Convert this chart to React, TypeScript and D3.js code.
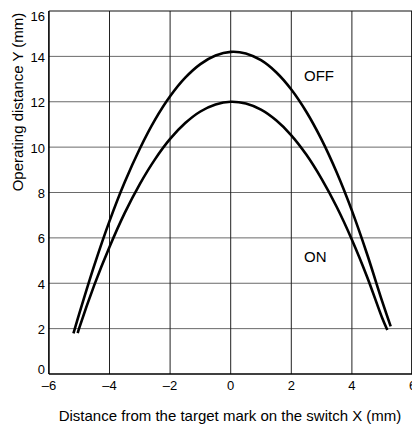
import React from "react";
import * as d3 from "d3";

const xTicks = [-6, -4, -2, 0, 2, 4, 6];
const yTicks = [0, 2, 4, 6, 8, 10, 12, 14, 16];

const offX = [-5.19, -5, -4.5, -4, -3.5, -3, -2.5, -2, -1.5, -1, -0.5, 0, 0.5, 1, 1.5, 2, 2.5, 3, 3.5, 4, 4.5, 5, 5.28];
const offY = [1.79, 2.65, 4.8, 6.74, 8.45, 9.93, 11.2, 12.24, 13.06, 13.66, 14.04, 14.2, 14.13, 13.83, 13.3, 12.54, 11.55, 10.33, 8.88, 7.2, 5.29, 3.2, 2.1];

const onX = [-5.05, -5, -4.5, -4, -3.5, -3, -2.5, -2, -1.5, -1, -0.5, 0, 0.5, 1, 1.5, 2, 2.5, 3, 3.5, 4, 4.5, 5, 5.17];
const onY = [1.8, 2.02, 3.93, 5.6, 7.09, 8.37, 9.46, 10.36, 11.06, 11.57, 11.88, 12.0, 11.92, 11.65, 11.18, 10.52, 9.66, 8.6, 7.36, 5.92, 4.29, 2.47, 1.94];

const seriesLabels = ["OFF", "ON"];
const labelX = [2.42, 2.42];
const labelY = [12.91, 4.94];

const W = 412;
const H = 424;
const left = 48.9;
const right = 412.5;
const top = 11;
const bottom = 374;
const font = "'Liberation Sans', Arial, Helvetica, sans-serif";

export default function App() {
  const x = d3.scaleLinear().domain([-6, 6]).range([left, right]);
  const y = d3.scaleLinear().domain([0, 16]).range([bottom, top]);
  const line = d3
    .line<[number, number]>()
    .x((d) => x(d[0]))
    .y((d) => y(d[1]))
    .curve(d3.curveCatmullRom.alpha(0.5));
  const offPts = offX.map((v, i) => [v, offY[i]] as [number, number]);
  const onPts = onX.map((v, i) => [v, onY[i]] as [number, number]);
  const fmt = (v: number) => (v < 0 ? "\u2013" + Math.abs(v) : String(v));
  const yLabelBase = (t: number) => {
    if (t === 16) return y(t) + 9.7;
    if (t === 0) return y(t);
    return y(t) + 5.5;
  };

  return (
    <svg
      width={W}
      height={H}
      style={{ position: "absolute", left: 0, top: 0, background: "#fff" }}
      fontFamily={font}
    >
      {yTicks.slice(1, -1).map((t) => (
        <line key={"h" + t} x1={left} x2={right} y1={y(t)} y2={y(t)} stroke="#6a6a6a" strokeWidth={1} />
      ))}
      {xTicks.slice(1, -1).map((t) => (
        <line key={"v" + t} x1={x(t)} x2={x(t)} y1={top} y2={bottom} stroke="#222" strokeWidth={1} />
      ))}
      <line x1={left} x2={right} y1={top} y2={top} stroke="#111" strokeWidth={1.2} />
      <line x1={x(6) - 0.8} x2={x(6) - 0.8} y1={top} y2={bottom} stroke="#111" strokeWidth={1.2} />
      <line x1={left} x2={left} y1={top} y2={bottom} stroke="#000" strokeWidth={1.6} />
      <line x1={left} x2={right} y1={bottom} y2={bottom} stroke="#000" strokeWidth={1.6} />

      <path d={line(offPts) || ""} fill="none" stroke="#000" strokeWidth={2.6} />
      <path d={line(onPts) || ""} fill="none" stroke="#000" strokeWidth={2.6} />

      {yTicks.map((t) => (
        <text key={"yt" + t} x={45} y={yLabelBase(t)} textAnchor="end" fontSize={13} fill="#000">
          {t}
        </text>
      ))}
      {xTicks.map((t) => (
        <text key={"xt" + t} x={x(t)} y={390} textAnchor="middle" fontSize={13} fill="#000">
          {fmt(t)}
        </text>
      ))}

      {seriesLabels.map((s, i) => (
        <text key={s} x={x(labelX[i])} y={y(labelY[i])} fontSize={15} fill="#000">
          {s}
        </text>
      ))}

      <text x={230} y={420.5} textAnchor="middle" fontSize={15} fill="#000">
        Distance from the target mark on the switch X (mm)
      </text>
      <text
        transform={`translate(23, 102) rotate(-90)`}
        textAnchor="middle"
        fontSize={15}
        fill="#000"
      >
        Operating distance Y (mm)
      </text>
    </svg>
  );
}
